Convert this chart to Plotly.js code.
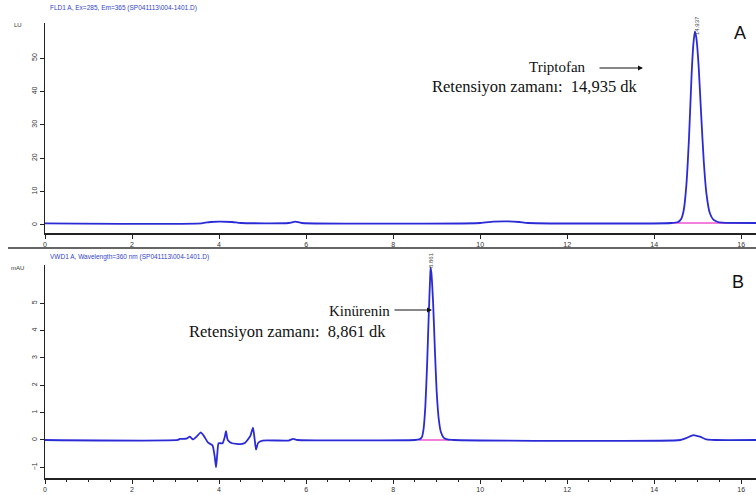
<!DOCTYPE html>
<html><head><meta charset="utf-8">
<script src="https://cdn.plot.ly/plotly-3.0.1.min.js"></script>
<style>html,body{margin:0;padding:0;background:#fff}#c{width:756px;height:495px}</style>
</head><body><div id="c"></div>
<script>
// Panel A (FLD) signal, LU
const timeA = [0, 3.6, 3.8, 4.0, 4.3, 4.5, 5.6, 5.75, 5.9, 10.0, 10.3, 10.6, 10.9, 11.1, 14.4, 14.55, 14.62, 14.68, 14.74, 14.80, 14.86, 14.90, 14.935, 14.97, 15.02, 15.08, 15.14, 15.20, 15.28, 15.36, 15.46, 15.56, 16.4];
const signalA = [0.5, 0.5, 0.9, 1.0, 0.9, 0.6, 0.6, 1.0, 0.6, 0.6, 1.0, 1.1, 0.9, 0.6, 0.6, 0.9, 1.8, 4.5, 12, 26, 45, 54, 58, 56, 48, 33, 19, 9.5, 3.5, 1.6, 0.9, 0.7, 0.6];
const baseA_t = [14.37, 16.4];
const baseA_v = [0.6, 0.6];
// Panel B (VWD) signal, mAU
const timeB = [0, 3.05, 3.1, 3.25, 3.33, 3.4, 3.5, 3.58, 3.65, 3.75, 3.85, 3.9, 3.93, 3.96, 3.99, 4.08, 4.13, 4.16, 4.2, 4.3, 4.5, 4.6, 4.72, 4.78, 4.82, 4.85, 4.9, 5.0, 5.6, 5.7, 5.8, 8.5, 8.6, 8.66, 8.70, 8.74, 8.78, 8.82, 8.85, 8.861, 8.88, 8.92, 8.96, 9.00, 9.05, 9.10, 9.16, 9.25, 9.4, 14.6, 14.75, 14.9, 15.05, 15.2, 15.4, 16.4];
const signalB = [0, 0, 0.04, 0.05, 0.12, 0.02, 0.15, 0.28, 0.15, -0.1, -0.2, -0.6, -1.0, -0.5, -0.12, -0.12, 0.1, 0.32, 0.0, -0.12, -0.15, -0.1, 0.15, 0.45, 0.0, -0.35, -0.1, -0.02, -0.02, 0.04, 0.0, 0.0, 0.02, 0.1, 0.4, 1.2, 2.7, 4.6, 5.9, 6.3, 6.1, 5.0, 3.3, 1.8, 0.75, 0.28, 0.09, 0.02, 0.0, 0.0, 0.08, 0.18, 0.12, 0.02, 0.0, 0.0];
const baseB_t = [8.6, 9.3];
const baseB_v = [0, 0];
const ticksA = [0, 10, 20, 30, 40, 50];
const ticksB = [-1, 0, 1, 2, 3, 4, 5];
const ticksX = [0, 2, 4, 6, 8, 10, 12, 14, 16];

const blue = '#2b2bd6', pink = '#ee55cc';
const traces = [
  {x: baseA_t, y: baseA_v, xaxis: 'x', yaxis: 'y', mode: 'lines', line: {color: pink, width: 1.5}, hoverinfo: 'skip'},
  {x: timeA, y: signalA, xaxis: 'x', yaxis: 'y', mode: 'lines', line: {color: blue, width: 1.8, shape: 'spline', smoothing: 0.6}},
  {x: baseB_t, y: baseB_v, xaxis: 'x2', yaxis: 'y2', mode: 'lines', line: {color: pink, width: 1.5}, hoverinfo: 'skip'},
  {x: timeB, y: signalB, xaxis: 'x2', yaxis: 'y2', mode: 'lines', line: {color: blue, width: 1.8, shape: 'spline', smoothing: 0.5}}
];
const W = 711, L = 45, H = 495;
const px = v => (v - L) / W, py = v => (H - v) / H;
const tickFont = {family: 'Liberation Sans, Arial', size: 7, color: '#333'};
const xax = (anchor) => ({anchor: anchor, range: [0, 16.34], tickvals: ticksX, ticks: 'outside', ticklen: 4, tickcolor: '#222', showline: true, linecolor: '#222', linewidth: 1.5, showgrid: false, zeroline: false, tickfont: tickFont, fixedrange: true});
const yax = (anchor, dom, rng, tv) => ({anchor: anchor, domain: dom, range: rng, tickvals: tv, ticks: 'outside', ticklen: 4, tickcolor: '#222', showline: true, linecolor: '#222', linewidth: 1.5, showgrid: false, zeroline: false, tickfont: tickFont, tickangle: -90});
const serif = {family: 'Liberation Serif, Times New Roman', size: 15, color: '#111'};
const serifL = {family: 'Liberation Serif, Times New Roman', size: 16.5, color: '#111'};
const sans = (s, c) => ({family: 'Liberation Sans, Arial', size: s, color: c});
const txt = (x, y, text, font, extra) => Object.assign({xref: 'paper', yref: 'paper', x: px(x), y: py(y), xanchor: 'center', yanchor: 'middle', showarrow: false, text: text, font: font}, extra || {});
const layout = {
  width: 756, height: 495, margin: {l: L, r: 0, t: 0, b: 0}, showlegend: false,
  paper_bgcolor: '#fff', plot_bgcolor: '#fff',
  xaxis: xax('y'),
  xaxis2: Object.assign(xax('y2'), {minor: {dtick: 0.5, ticks: 'outside', ticklen: 2, tickcolor: '#222'}}),
  yaxis: yax('x', [py(233), py(23)], [-2.4, 60.5], ticksA),
  yaxis2: yax('x2', [py(478), py(265)], [-1.39, 6.4], ticksB),
  shapes: [
    {type: 'line', xref: 'paper', yref: 'paper', x0: px(8), x1: 1, y0: py(248), y1: py(248), line: {color: '#333', width: 1.5}}
  ],
  annotations: [
    txt(48, 8, 'FLD1 A, Ex=285, Em=365 (SP041113\\004-1401.D)', sans(6.5, '#3344cc'), {xanchor: 'left'}),
    txt(48, 257, 'VWD1 A, Wavelength=360 nm (SP041113\\004-1401.D)', sans(6.5, '#3344cc'), {xanchor: 'left'}),
    txt(18, 25, 'LU', sans(6, '#333')),
    txt(17, 268, 'mAU', sans(6, '#333')),
    txt(697, 26, '14.937', sans(6, '#444'), {textangle: -90}),
    txt(431, 260, '8.861', sans(6, '#444'), {textangle: -90}),
    txt(740, 33, 'A', sans(18, '#111')),
    txt(738, 282, 'B', sans(18, '#111')),
    txt(557, 67, 'Triptofan', serif),
    txt(535, 86, 'Retensiyon zamanı:&nbsp; 14,935 dk', serifL),
    txt(359, 311, 'Kinürenin', serif),
    txt(287, 331, 'Retensiyon zamanı:&nbsp; 8,861 dk', serifL),
    {xref: 'paper', yref: 'paper', x: px(643), y: py(68), ax: -45, ay: 0, axref: 'pixel', ayref: 'pixel', showarrow: true, arrowhead: 2, arrowsize: 1, arrowwidth: 1, arrowcolor: '#111', text: ''},
    {xref: 'paper', yref: 'paper', x: px(432), y: py(310), ax: -39, ay: 0, axref: 'pixel', ayref: 'pixel', showarrow: true, arrowhead: 2, arrowsize: 1, arrowwidth: 1, arrowcolor: '#111', text: ''}
  ]
};
Plotly.newPlot('c', traces, layout, {staticPlot: true, displayModeBar: false});
</script></body></html>
